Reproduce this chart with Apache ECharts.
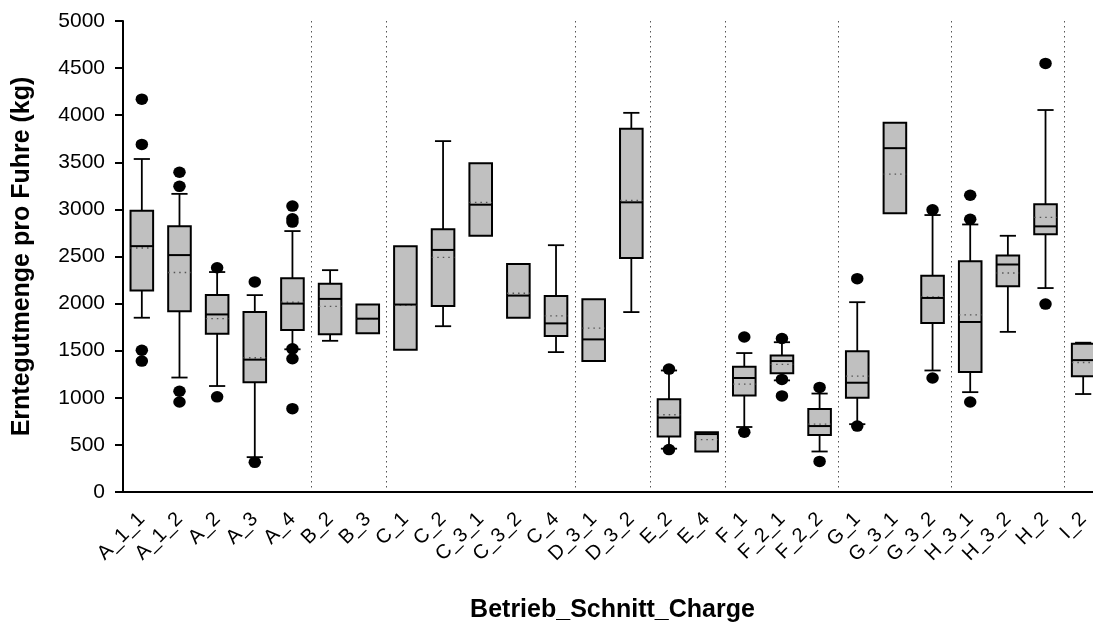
<!DOCTYPE html>
<html>
<head>
<meta charset="utf-8">
<script src="https://cdn.jsdelivr.net/npm/echarts@6/dist/echarts.min.js"></script>
<style>
html,body{margin:0;padding:0;background:#fff;}
#chart{width:1093px;height:626px;}
</style>
</head>
<body>
<div id="chart"></div>
<script>
const categories = ['A_1_1','A_1_2','A_2','A_3','A_4','B_2','B_3','C_1','C_2','C_3_1','C_3_2','C_4','D_3_1','D_3_2','E_2','E_4','F_1','F_2_1','F_2_2','G_1','G_3_1','G_3_2','H_3_1','H_3_2','H_2','I_2'];
const whiskerLow  = [1850,1215,1125, 370,1515,1605,null,null,1760,null,null,1485,null,1910, 460,null, 690,1185, 430, 720,null,1290,1060,1700,2165,1040];
const q1          = [2140,1920,1680,1165,1720,1675,1685,1510,1975,2720,1850,1655,1390,2485, 590, 430,1025,1260, 605,1000,2960,1795,1275,2185,2735,1230];
const median      = [2610,2515,1885,1405,2000,2050,1840,1990,2570,3050,2085,1790,1620,3075, 790, 615,1210,1390, 700,1160,3650,2060,1805,2415,2820,1400];
const mean        = [2590,2330,1840,1425,2015,1970,1840,1985,2490,3075,2110,1870,1740,3095, 820, 555,1145,1355, 720,1230,3375,2070,1880,2325,2915,1375];
const q3          = [2985,2820,2090,1910,2270,2210,1990,2610,2790,3490,2420,2080,2045,3855, 985, 635,1330,1450, 880,1495,3920,2295,2450,2510,3055,1575];
const whiskerHigh = [3535,3165,2335,2090,2770,2355,null,null,3725,null,null,2620,null,4025,1290,null,1475,1590,1045,2015,null,2940,2840,2720,4055,1585];
const outliers = {
  'A_1_1': [4170, 3690, 1505, 1390],
  'A_1_2': [3395, 3245, 1070, 955],
  'A_2':   [2380, 1010],
  'A_3':   [2230, 315],
  'A_4':   [3035, 2900, 2865, 1520, 1415, 885],
  'E_2':   [1305, 450],
  'F_1':   [1645, 635],
  'F_2_1': [1630, 1195, 1020],
  'F_2_2': [1110, 325],
  'G_1':   [2265, 700],
  'G_3_2': [2995, 1210],
  'H_3_1': [3150, 2895, 955],
  'H_2':   [4550, 1995]
};
const yTicks = {min: 0, max: 5000, interval: 500};

const FONT = "'Liberation Sans', Arial, sans-serif";
const groupStart = categories.map((c, i) => i > 0 && c[0] !== categories[i - 1][0]);

const boxData = categories.map((c, i) => [i, q1[i], q3[i]]);
const outlierData = [];
categories.forEach((c, i) => { (outliers[c] || []).forEach(v => outlierData.push([i, v])); });

function renderBox(params, api) {
  const i = params.dataIndex;
  const band = api.size([1, 0])[0];
  const half = band * 0.3;
  const capHalf = band * 0.215;
  const cx = api.coord([i, 0])[0];
  const y = v => api.coord([i, v])[1];
  const children = [];
  const lineStyle = {stroke: '#000', lineWidth: 1.8};
  if (whiskerHigh[i] != null) {
    children.push({type: 'line', shape: {x1: cx, y1: y(q3[i]), x2: cx, y2: y(whiskerHigh[i])}, style: lineStyle});
    children.push({type: 'line', shape: {x1: cx - capHalf, y1: y(whiskerHigh[i]), x2: cx + capHalf, y2: y(whiskerHigh[i])}, style: lineStyle});
  }
  if (whiskerLow[i] != null) {
    children.push({type: 'line', shape: {x1: cx, y1: y(q1[i]), x2: cx, y2: y(whiskerLow[i])}, style: lineStyle});
    children.push({type: 'line', shape: {x1: cx - capHalf, y1: y(whiskerLow[i]), x2: cx + capHalf, y2: y(whiskerLow[i])}, style: lineStyle});
  }
  const top = y(q3[i]), bot = y(q1[i]);
  children.push({type: 'rect', shape: {x: cx - half, y: top, width: half * 2, height: bot - top},
    style: {fill: '#c0c0c0', stroke: '#000', lineWidth: 2}});
  children.push({type: 'line', shape: {x1: cx - half, y1: y(mean[i]), x2: cx + half, y2: y(mean[i])},
    style: {stroke: '#555', lineWidth: 1.3, lineDash: [1.5, 4]}});
  children.push({type: 'line', shape: {x1: cx - half, y1: y(median[i]), x2: cx + half, y2: y(median[i])},
    style: {stroke: '#000', lineWidth: 2}});
  return {type: 'group', children};
}

const chart = echarts.init(document.getElementById('chart'));
chart.setOption({
  backgroundColor: '#fff',
  animation: false,
  grid: {left: 123, width: 979, top: 21, height: 471, containLabel: false, outerBoundsMode: 'none'},
  xAxis: {
    type: 'category',
    data: categories,
    boundaryGap: true,
    name: 'Betrieb_Schnitt_Charge',
    nameLocation: 'middle',
    nameGap: 106,
    nameTextStyle: {fontFamily: FONT, fontSize: 25, fontWeight: 'bold', color: '#000'},
    axisLine: {lineStyle: {color: '#000', width: 2}},
    axisTick: {alignWithLabel: true, length: 7, lineStyle: {color: '#000', width: 2}},
    axisLabel: {interval: 0, rotate: 45, margin: 24, fontFamily: FONT, fontSize: 20, color: '#000'},
    splitLine: {show: true, interval: (idx) => groupStart[idx],
      lineStyle: {color: '#555', width: 1, type: [1.5, 3.5]}}
  },
  yAxis: {
    type: 'value',
    min: yTicks.min, max: yTicks.max, interval: yTicks.interval,
    name: 'Erntegutmenge pro Fuhre (kg)',
    nameLocation: 'middle',
    nameGap: 88,
    nameTextStyle: {fontFamily: FONT, fontSize: 25, fontWeight: 'bold', color: '#000'},
    axisLine: {show: true, lineStyle: {color: '#000', width: 2}},
    axisTick: {show: true, length: 8, lineStyle: {color: '#000', width: 2}},
    axisLabel: {margin: 18, fontFamily: FONT, fontSize: 21, color: '#000', formatter: (v) => String(v)},
    splitLine: {show: false}
  },
  series: [
    {type: 'custom', renderItem: renderBox, data: boxData, encode: {x: 0, y: [1, 2]}, z: 2, clip: false},
    {type: 'scatter', data: outlierData, symbol: 'circle', symbolSize: [12.5, 11.5],
      itemStyle: {color: '#000', opacity: 1}, z: 3}
  ]
});
</script>
</body>
</html>
